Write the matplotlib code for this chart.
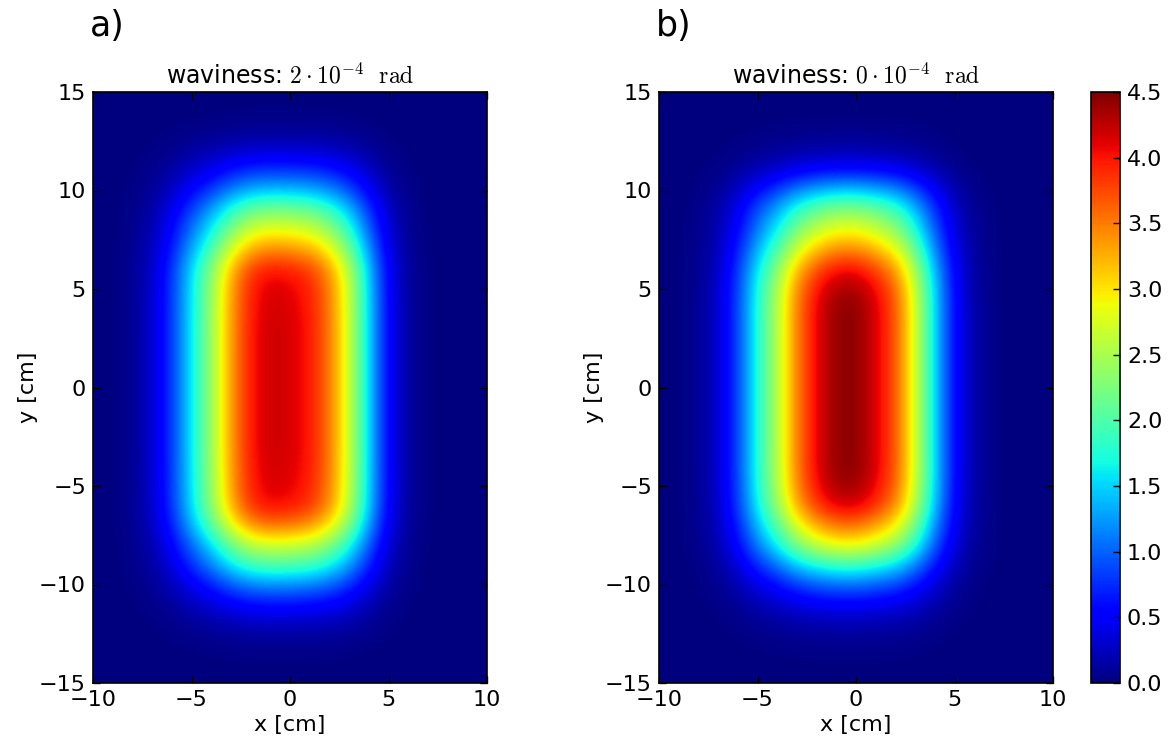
import numpy as np
import matplotlib
matplotlib.use("Agg")
import matplotlib.pyplot as plt

plt.rcParams["font.family"] = ["DejaVu Sans"]
plt.rcParams["mathtext.fontset"] = "cm"

# sample positions of the measured profiles [cm]
x_cm = np.arange(-10, 11)          # 21 points, 1 cm apart
y_cm = np.arange(-15, 16)          # 31 points, 1 cm apart

# panel a: waviness 2e-4 rad
a_x_profile = [0.0, 0.01, 0.08, 0.3, 0.8, 1.6, 2.4, 3.35, 4.0, 4.2, 4.15,
               4.0, 3.55, 2.7, 1.5, 0.5, 0.12, 0.02, 0.0, 0.0, 0.0]
a_y_profile = [0.0, 0.01, 0.07, 0.25, 0.6, 1.2, 2.0, 2.7, 3.55, 4.05, 4.15,
               4.18, 4.2, 4.2, 4.2, 4.2, 4.2, 4.2, 4.2, 4.18, 4.15,
               4.0, 3.45, 2.85, 2.25, 1.45, 0.8, 0.35, 0.1, 0.02, 0.0]

# panel b: waviness 0
b_x_profile = [0.0, 0.01, 0.08, 0.3, 0.85, 1.75, 2.55, 3.5, 4.1, 4.42, 4.45,
               4.15, 3.7, 2.75, 1.5, 0.55, 0.15, 0.03, 0.0, 0.0, 0.0]
b_y_profile = [0.0, 0.01, 0.06, 0.2, 0.5, 1.05, 1.9, 2.9, 3.6, 4.2, 4.42,
               4.5, 4.5, 4.5, 4.5, 4.5, 4.5, 4.5, 4.5, 4.5, 4.4,
               4.1, 3.5, 2.9, 2.35, 1.5, 0.6, 0.2, 0.05, 0.01, 0.0]

panel_tags = ["a)", "b)"]
waviness = ["2", "0"]
cbar_ticks = [0.0, 0.5, 1.0, 1.5, 2.0, 2.5, 3.0, 3.5, 4.0, 4.5]


def intensity_map(xp, yp):
    xp = np.asarray(xp, float)
    yp = np.asarray(yp, float)
    return np.outer(yp / yp.max(), xp)


W, H = 1172, 745
fig = plt.figure(figsize=(W / 100, H / 100), dpi=100)

ax_w = 394 / W
ax_h = 591 / H
ax_b = (H - 683) / H
axes = [fig.add_axes([93 / W, ax_b, ax_w, ax_h]),
        fig.add_axes([659 / W, ax_b, ax_w, ax_h])]
cax = fig.add_axes([1090.5 / W, ax_b, 29.5 / W, ax_h])

fields = [intensity_map(a_x_profile, a_y_profile),
          intensity_map(b_x_profile, b_y_profile)]

dx = x_cm[1] - x_cm[0]
dy = y_cm[1] - y_cm[0]
extent = [x_cm[0] - dx / 2, x_cm[-1] + dx / 2,
          y_cm[0] - dy / 2, y_cm[-1] + dy / 2]

im = None
for ax, z, tag, wv in zip(axes, fields, panel_tags, waviness):
    im = ax.imshow(z, origin="lower", extent=extent, cmap="jet",
                   vmin=0, vmax=4.5, interpolation="bicubic", aspect="auto")
    ax.set_xlim(-10, 10)
    ax.set_ylim(-15, 15)
    ax.set_xticks([-10, -5, 0, 5, 10])
    ax.set_yticks([-15, -10, -5, 0, 5, 10, 15])
    ax.tick_params(direction="in", top=True, right=True, length=5,
                   width=1, labelsize=16, pad=5)
    for s in ax.spines.values():
        s.set_linewidth(1.2)
    ax.set_xlabel("x [cm]", fontsize=16, labelpad=4)
    ax.set_ylabel("y [cm]", fontsize=16, labelpad=1)
    ax.set_title(r"waviness: $%s\cdot10^{-4}$  $\mathrm{rad}$" % wv,
                 fontsize=17, pad=6)
    pos = ax.get_position()
    fig.text(pos.x0 - 3 / W, 1 - 26 / H, tag, fontsize=25,
             ha="left", va="center")

cb = fig.colorbar(im, cax=cax, ticks=cbar_ticks)
cb.ax.set_yticklabels(["%.1f" % t for t in cbar_ticks])
cb.ax.tick_params(direction="in", length=5, width=1, labelsize=16, pad=5)
cb.outline.set_linewidth(1.2)

fig.savefig("out.png", dpi=100)
